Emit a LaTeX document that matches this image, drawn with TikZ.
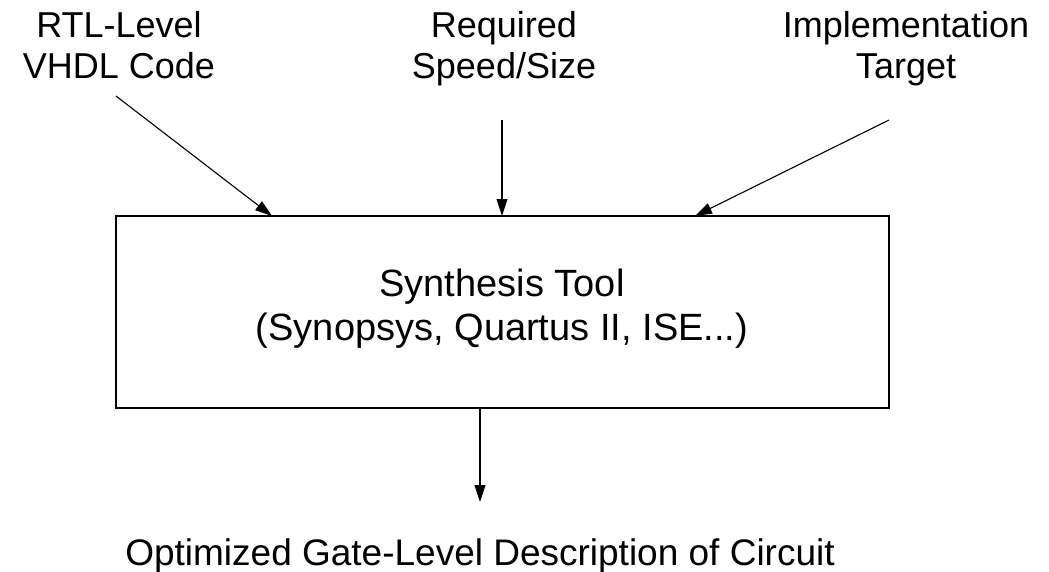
\documentclass[tikz,border=0pt]{standalone}
\usepackage{fontspec}
\setmainfont{Liberation Sans}
\usetikzlibrary{arrows.meta}
\begin{document}
\begin{tikzpicture}[x=1pt,y=-1pt,
  lbl/.style={font=\fontsize{36}{41}\selectfont, align=center, inner sep=0pt, anchor=north},
  big/.style={lbl, font=\fontsize{38}{44}\selectfont},
  tool/.style={draw, line width=1.4pt, minimum width=773pt, minimum height=192pt, inner sep=0pt},
  flow/.style={line width=1.1pt, -{Triangle[length=17pt,width=11pt]}}]
  \useasboundingbox (0,0) rectangle (1049,571);
  % inputs
  \node[lbl] (rtl) at (119,11) {RTL-Level\\VHDL Code};
  \node[lbl] (speed) at (504,11) {Required\\Speed/Size};
  \node[lbl] (impl) at (906,11) {Implementation\\Target};
  % synthesis box
  \node[tool] (box) at (502.5,312) {};
  \node[big] (boxtxt) at (502,269) {Synthesis Tool\\(Synopsys, Quartus II, ISE...)};
  % output
  \node[lbl, font=\fontsize{37}{42}\selectfont] (out) at (480,538) {Optimized Gate-Level Description of Circuit};
  % connectors
  \coordinate (s1) at (116,96);
  \coordinate (s2) at (502,120);
  \coordinate (s3) at (889,120);
  \coordinate (t1) at (272,216);
  \coordinate (t2) at (502,216);
  \coordinate (t3) at (695,216);
  \coordinate (o1) at (480,408);
  \coordinate (o2) at (480,502);
  \draw[flow] (s1) -- (t1);
  \draw[flow] (s2) -- (t2);
  \draw[flow] (s3) -- (t3);
  \draw[flow] (o1) -- (o2);
\end{tikzpicture}
\end{document}
